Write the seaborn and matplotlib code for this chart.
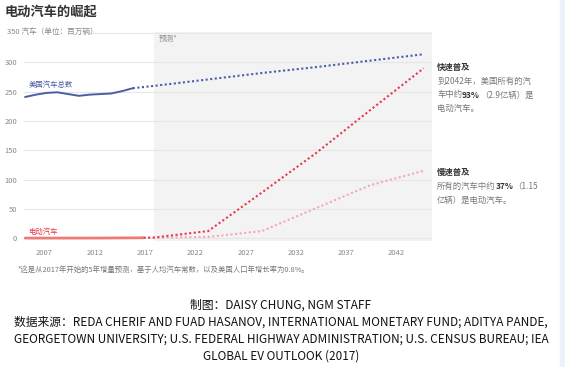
import matplotlib.pyplot as plt
import pandas as pd
import seaborn as sns

# 历史数据（百万辆）
hist_years = [2005, 2006, 2007, 2008, 2009, 2010, 2011, 2012, 2013, 2014, 2015]
us_total_hist = [241, 245, 248, 249, 246, 243, 245, 246, 247, 251, 256]
ev_hist_years = [2005, 2006, 2007, 2008, 2009, 2010, 2011, 2012, 2013, 2014, 2015, 2016]
ev_hist = [0, 0, 0, 0, 0, 0.02, 0.05, 0.1, 0.2, 0.3, 0.4, 0.5]

# 预测（百万辆）
proj_years = [2015, 2017, 2022, 2027, 2032, 2037, 2042]
us_total_proj = [256, 260, 271, 282, 292, 303, 314]
ev_proj_years = [2016, 2017, 2022, 2027, 2032, 2037, 2042]
ev_fast = [0.5, 1, 12, 78, 145, 218, 290]
ev_slow = [0.5, 0.6, 2, 12, 51, 90, 115]

tick_years = [2007, 2012, 2017, 2022, 2027, 2032, 2037, 2042]
y_ticks = [0, 50, 100, 150, 200, 250, 300]

BLUE = "#4a5da6"
RED = "#f07a7a"
RED_FAST = "#e8374d"
RED_SLOW = "#f5a9b1"
GRAY = "#8a8a8a"

sns.set_style("white")
plt.rcParams["font.family"] = ["Noto Sans CJK SC", "DejaVu Sans"]

fig = plt.figure(figsize=(5.65, 3.67), dpi=100)
ax = fig.add_axes([0.0425, 0.3433, 0.7225, 0.5695])

# 预测区域背景
ax.axvspan(2017, 2043, color="#f3f3f3", zorder=0, lw=0)

hist = pd.DataFrame({"year": hist_years, "total": us_total_hist})
ev_h = pd.DataFrame({"year": ev_hist_years, "ev": ev_hist})
proj = pd.DataFrame({"year": proj_years, "total": us_total_proj})
evp = pd.DataFrame({"year": ev_proj_years, "fast": ev_fast, "slow": ev_slow})

sns.lineplot(data=hist, x="year", y="total", color=BLUE, lw=1.4, ax=ax, zorder=3)
sns.lineplot(data=ev_h, x="year", y="ev", color=RED, lw=2.0, ax=ax, zorder=3)
sns.lineplot(data=proj, x="year", y="total", color=BLUE, lw=1.5, ax=ax,
             linestyle=(0, (1, 1.2)), zorder=3)
sns.lineplot(data=evp, x="year", y="slow", color=RED_SLOW, lw=1.5, ax=ax,
             linestyle=(0, (1, 1.2)), zorder=3)
sns.lineplot(data=evp, x="year", y="fast", color=RED_FAST, lw=1.5, ax=ax,
             linestyle=(0, (1, 1.2)), zorder=3)

ax.set_xlim(2004.9, 2042.8)
ax.set_ylim(-5, 352)

# 网格线
for v in y_ticks:
    ax.axhline(v, color="#e6e6e6", lw=0.8, zorder=1)
ax.axhline(350, xmin=0.157, color="#e6e6e6", lw=0.8, zorder=1)

# 原图刻度标签间距略小于数据间距
ax.set_xticks([2006.8 + i * 4.67 for i in range(len(tick_years))])
ax.set_xticklabels([str(y) for y in tick_years])
ax.set_yticks(y_ticks)
ax.tick_params(axis="both", length=0, labelsize=5.5, labelcolor=GRAY)
ax.tick_params(axis="y", pad=5)
ax.tick_params(axis="x", pad=6)
sns.despine(ax=ax, left=True, bottom=True)
ax.set_xlabel("")
ax.set_ylabel("")

fig.text(7 / 565, 1 - 32 / 367, "350 汽车（单位：百万辆）", fontsize=5.5,
         color=GRAY, va="center", ha="left")

# 标题
fig.text(5 / 565, 1 - 12 / 367, "电动汽车的崛起", fontsize=9.5,
         fontweight="bold", color="#333333", va="center")

ax.text(2017.4, 340, "预测*", fontsize=5.5, color=GRAY, va="center")
ax.text(2005.3, 262, "美国汽车总数", fontsize=5.3, color=BLUE, va="center")
ax.text(2005.3, 10, "电动汽车", fontsize=5.3, color=RED_FAST, va="center")

# 右侧说明
rx = 437 / 565
dark = "#333333"
mid = "#777777"
fig.text(rx, 1 - 67 / 367, "快速普及", fontsize=6, fontweight="bold", color=dark, va="center")
fig.text(rx, 1 - 81 / 367, "到2042年，美国所有的汽", fontsize=6, color=mid, va="center")
t = fig.text(rx, 1 - 95 / 367, "车中约", fontsize=6, color=mid, va="center")
t = ax.annotate("93%", xycoords=t, xy=(1, 0.5), va="center", fontsize=6,
                fontweight="bold", color=dark, annotation_clip=False)
ax.annotate("（2.9亿辆）是", xycoords=t, xy=(1, 0.5), va="center", fontsize=6,
            color=mid, annotation_clip=False)
fig.text(rx, 1 - 108 / 367, "电动汽车。", fontsize=6, color=mid, va="center")

fig.text(rx, 1 - 172 / 367, "慢速普及", fontsize=6, fontweight="bold", color=dark, va="center")
t = fig.text(rx, 1 - 186 / 367, "所有的汽车中约", fontsize=6, color=mid, va="center")
t = ax.annotate("37%", xycoords=t, xy=(1, 0.5), va="center", fontsize=6,
                fontweight="bold", color=dark, annotation_clip=False)
ax.annotate("（1.15", xycoords=t, xy=(1, 0.5), va="center", fontsize=6,
            color=mid, annotation_clip=False)
fig.text(rx, 1 - 200 / 367, "亿辆）是电动汽车。", fontsize=6, color=mid, va="center")

# 脚注
fig.text(18 / 565, 1 - 270 / 367,
         "*这是从2017年开始的5年增量预测，基于人均汽车常数，以及美国人口年增长率为0.8%。",
         fontsize=5.3, color=mid, va="center")

credits = [
    "制图：DAISY CHUNG, NGM STAFF",
    "数据来源：REDA CHERIF AND FUAD HASANOV, INTERNATIONAL MONETARY FUND; ADITYA PANDE,",
    "GEORGETOWN UNIVERSITY; U.S. FEDERAL HIGHWAY ADMINISTRATION; U.S. CENSUS BUREAU; IEA",
    "GLOBAL EV OUTLOOK (2017)",
]
for i, line in enumerate(credits):
    fig.text(281 / 565, 1 - (305 + i * 17) / 367, line, fontsize=8.5,
             color="#111111", ha="center", va="center")

# 右侧页面背景
fig.patches.append(plt.Rectangle((560 / 565, 0), 5 / 565, 1, transform=fig.transFigure,
                                 color="#eaf2fb", zorder=0))

fig.savefig("out.png", dpi=100)
